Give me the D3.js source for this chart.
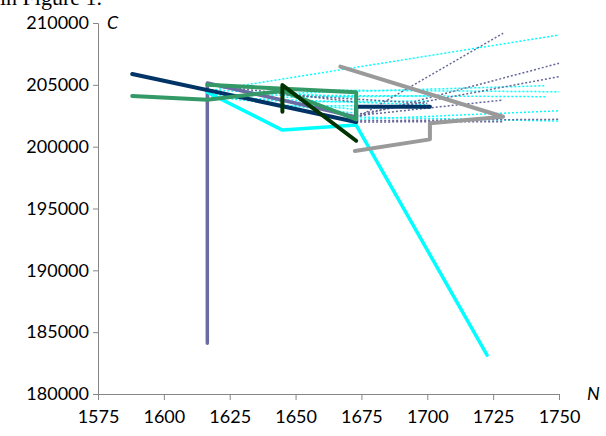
<!DOCTYPE html>
<html>
<head>
<meta charset="utf-8">
<script src="https://cdn.jsdelivr.net/npm/d3@7"></script>
<style>
  body { margin: 0; background: #fff; }
  svg { display: block; }
</style>
</head>
<body>
<svg id="chart" width="606" height="436"></svg>
<script>
// axis ticks
const xTicks = [1575, 1600, 1625, 1650, 1675, 1700, 1725, 1750];
const yTicks = [180000, 185000, 190000, 195000, 200000, 205000, 210000];

// solid trajectories, [N, C]
const navy = [[1588, 205880], [1673, 201990], [1673, 203230], [1701, 203230]];
const lavender = [[1616.5, 184100], [1616.5, 205150], [1673, 202400]];
const green = [[1588, 204100], [1616.5, 203800], [1645, 204500], [1673, 202200], [1673, 204400], [1616.5, 205000]];
const darkGreen = [[1645, 202820], [1645, 204980], [1673, 200480]];
const cyan = [[1616.5, 204400], [1645, 201340], [1673, 201750], [1722.7, 183140]];
const gray = [[1667, 206470], [1728.8, 202420], [1701, 201890], [1701, 200590], [1672.5, 199650]];

// dotted forecasts, [N0, C0, N1, C1]
const cyanDots = [
  [1616.5, 204500, 1750, 209030],
  [1645, 204600, 1750, 204440],
  [1645, 204300, 1745, 204930],
  [1616.5, 204200, 1745, 204040],
  [1673, 202200, 1750, 202900],
  [1673, 202400, 1750, 202070],
  [1616.5, 204000, 1700, 203400],
  [1616.5, 204300, 1673, 203000],
  [1645, 204000, 1700, 204100],
  [1616.5, 204600, 1673, 204000],
  [1616.5, 204100, 1673, 202700],
  [1645, 203600, 1700, 203700],
  [1645, 203300, 1673, 203300]
];
const lavDots = [
  [1673, 202300, 1728.8, 209170],
  [1673, 202400, 1750, 206740],
  [1673, 202600, 1750, 205660],
  [1673, 202500, 1728.8, 203770],
  [1673, 202100, 1750, 202210],
  [1673, 202000, 1728.8, 202020],
  [1616.5, 205000, 1673, 203600],
  [1645, 204200, 1700, 203500]
];

const svg = d3.select("#chart");
const x = d3.scaleLinear().domain([1575, 1750]).range([98, 559]);
const y = d3.scaleLinear().domain([180000, 210000]).range([394, 23]);

// clipped caption line from the page above
svg.append("text")
  .attr("x", 0).attr("y", 5)
  .style("font-family", "Liberation Serif, serif")
  .style("font-size", "22px")
  .text("in Figure 1.");

const gx = svg.append("g").attr("transform", "translate(0," + y(180000) + ")")
  .call(d3.axisBottom(x).tickValues(xTicks).tickFormat(d3.format("d")).tickSize(6).tickPadding(10));
const gy = svg.append("g").attr("transform", "translate(" + x(1575) + ",0)")
  .call(d3.axisLeft(y).tickValues(yTicks).tickFormat(d3.format("d")).tickSize(5).tickPadding(4));

[gx, gy].forEach(g => {
  g.select(".domain").attr("stroke", "#868686");
  g.selectAll(".tick line").attr("stroke", "#868686");
  g.selectAll("text").attr("fill", "#000")
    .style("font-family", "Lato, sans-serif").style("font-size", "18px");
});

svg.append("text").attr("x", 107).attr("y", 29)
  .style("font-family", "Lato, sans-serif").style("font-size", "18px").style("font-style", "italic")
  .text("C");
svg.append("text").attr("x", 587).attr("y", y(180000) + 6)
  .style("font-family", "Lato, sans-serif").style("font-size", "18px").style("font-style", "italic")
  .text("N");

const line = d3.line().x(d => x(d[0])).y(d => y(d[1]));

// dotted lines under the solid ones
svg.selectAll(".cdot").data(cyanDots).enter().append("line")
  .attr("x1", d => x(d[0])).attr("y1", d => y(d[1]))
  .attr("x2", d => x(d[2])).attr("y2", d => y(d[3]))
  .attr("stroke", "#00ffff").attr("stroke-width", 1.5).attr("stroke-dasharray", "2,2");
svg.selectAll(".ldot").data(lavDots).enter().append("line")
  .attr("x1", d => x(d[0])).attr("y1", d => y(d[1]))
  .attr("x2", d => x(d[2])).attr("y2", d => y(d[3]))
  .attr("stroke", "#666699").attr("stroke-width", 1.5).attr("stroke-dasharray", "2,2");

const series = [
  [lavender, "#6b6ba3", 3.5],
  [cyan, "#00ffff", 3.5],
  [navy, "#003366", 4],
  [green, "#339966", 4],
  [darkGreen, "#003300", 4],
  [gray, "#9a9a9a", 4]
];
series.forEach(s => {
  svg.append("path").attr("d", line(s[0]))
    .attr("fill", "none").attr("stroke", s[1]).attr("stroke-width", s[2])
    .attr("stroke-linecap", "round").attr("stroke-linejoin", "round");
});
</script>
</body>
</html>
